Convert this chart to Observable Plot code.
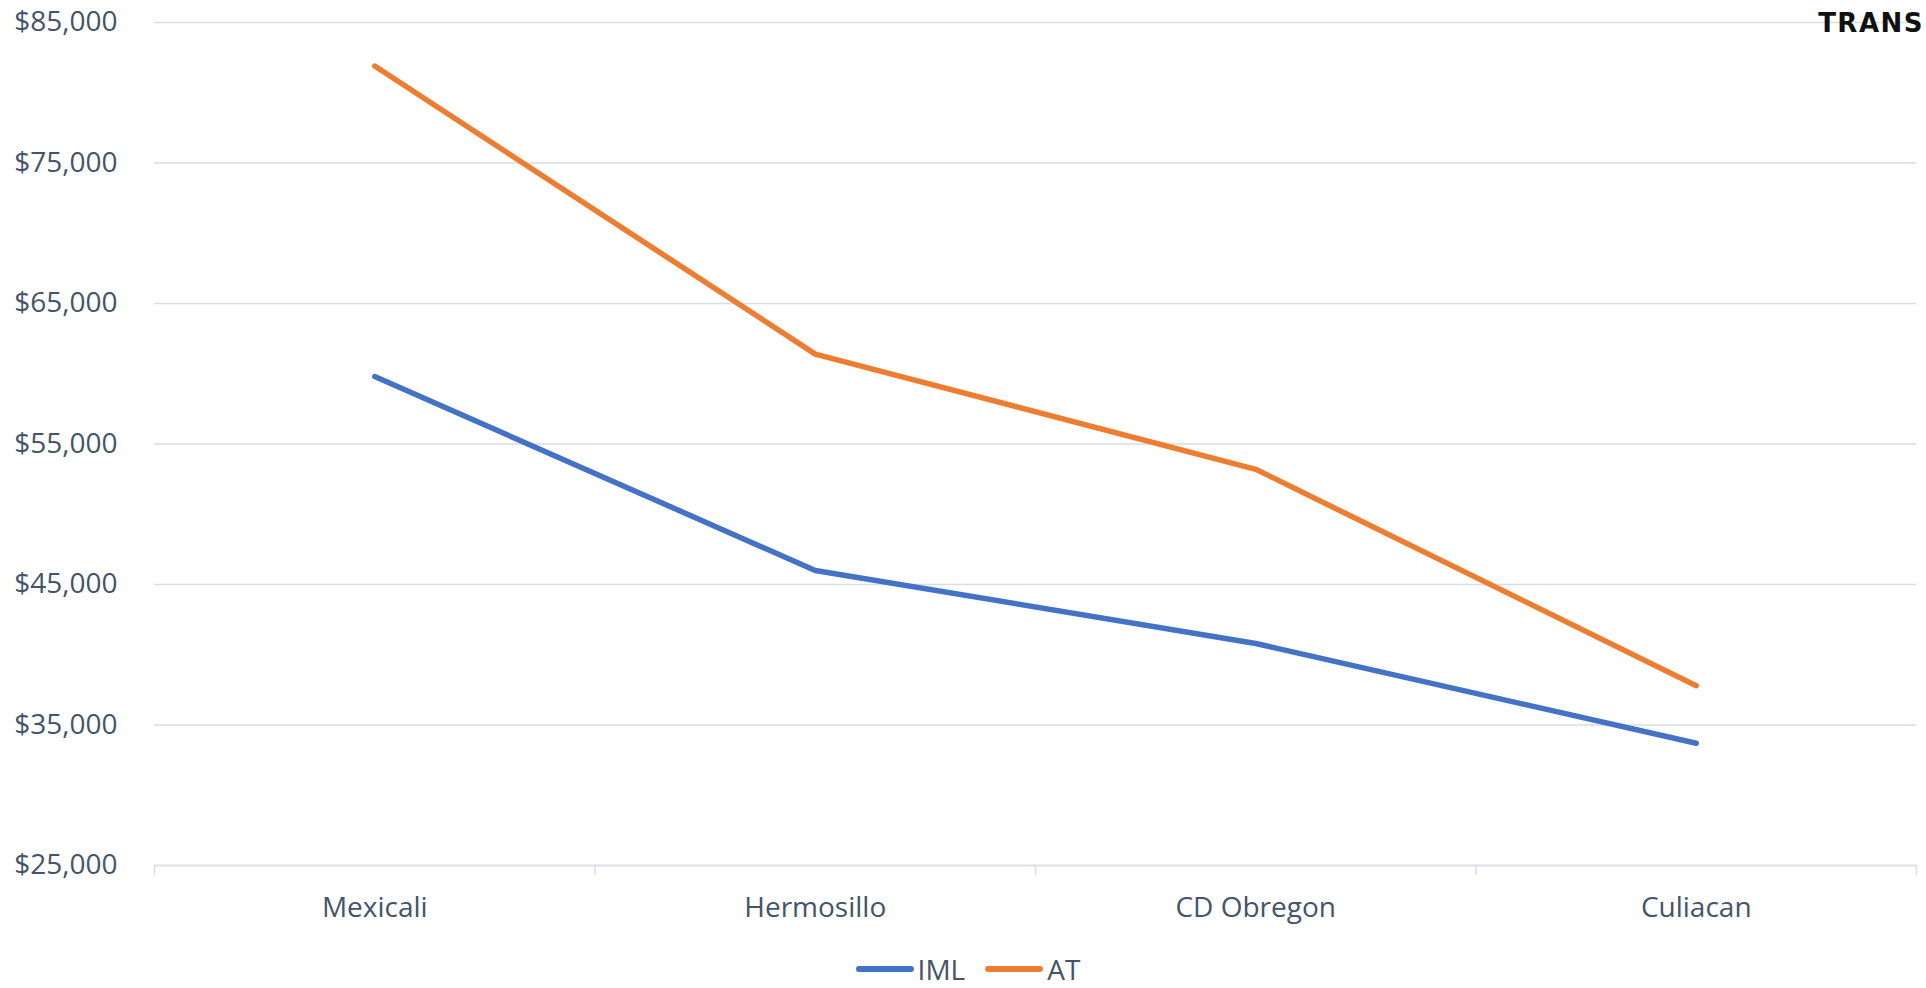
<!DOCTYPE html>
<html>
<head>
<meta charset="utf-8">
<script src="https://cdn.jsdelivr.net/npm/d3@7"></script>
<script src="https://cdn.jsdelivr.net/npm/@observablehq/plot@0.6"></script>
<style>
  html, body { margin: 0; padding: 0; background: #fff; overflow: hidden; }
  body { width: 1926px; height: 988px; position: relative; font-family: "Open Sans", sans-serif; }
  #logo { position: absolute; right: 2px; top: 8px; font-family: "DejaVu Sans", sans-serif; font-weight: bold; font-size: 26px; letter-spacing: 1.5px; color: #111; white-space: nowrap; }
  #legend { display: flex; justify-content: center; align-items: center; gap: 20px; height: 58px; margin-top: 10px; font-size: 28px; color: #44546A; padding-left: 10px; }
  .item { display: flex; align-items: center; gap: 4px; }
  .sw { width: 58px; height: 6px; border-radius: 3px; flex-shrink: 0; }
</style>
</head>
<body>
<div id="chart"></div>
<div id="legend"></div>
<div id="logo">TRANS</div>
<script>
const categories = ["Mexicali", "Hermosillo", "CD Obregon", "Culiacan"];
const seriesNames = ["IML", "AT"];
const imlValues = [59800, 46000, 40800, 33700];
const atValues = [81900, 61400, 53200, 37800];
const yTicks = [25000, 35000, 45000, 55000, 65000, 75000, 85000];
const colors = ["#4472C4", "#ED7D31"];

const data = [];
categories.forEach((c, i) => {
  data.push({series: "IML", i, value: imlValues[i]});
  data.push({series: "AT", i, value: atValues[i]});
});
const edges = d3.range(categories.length + 1).map(k => k - 0.5);
const fmt = v => "$" + d3.format(",")(v);

const chart = Plot.plot({
  width: 1926,
  height: 930,
  marginTop: 22,
  marginBottom: 65,
  marginLeft: 154,
  marginRight: 10,
  style: {fontFamily: "'Open Sans', sans-serif", fontSize: "28px", color: "#44546A", background: "#fff"},
  x: {type: "linear", domain: [-0.5, categories.length - 0.5]},
  y: {domain: [25000, 85000]},
  color: {domain: seriesNames, range: colors},
  marks: [
    Plot.gridY(yTicks, {stroke: "#D9DEE6", strokeOpacity: 1, strokeWidth: 1.5}),
    Plot.axisY(yTicks, {tickSize: 0, tickPadding: 37, tickFormat: fmt, label: null, fill: "#44546A"}),
    Plot.ruleY([25000], {stroke: "#D9DEE6", strokeWidth: 1.5}),
    Plot.axisX(edges, {tickSize: 10, tickFormat: () => "", stroke: "#D9DEE6", strokeWidth: 1.5, label: null}),
    Plot.axisX(d3.range(categories.length), {tickSize: 0, tickPadding: 32, tickFormat: i => categories[i], label: null, fill: "#44546A"}),
    Plot.line(data, {x: "i", y: "value", z: "series", stroke: "series", strokeWidth: 5.5, strokeLinecap: "round", strokeLinejoin: "round"})
  ]
});
document.getElementById("chart").appendChild(chart);

const legend = document.getElementById("legend");
seriesNames.forEach((s, k) => {
  const item = document.createElement("div");
  item.className = "item";
  const sw = document.createElement("div");
  sw.className = "sw";
  sw.style.background = colors[k];
  const t = document.createElement("span");
  t.textContent = s;
  item.appendChild(sw);
  item.appendChild(t);
  legend.appendChild(item);
});
</script>
</body>
</html>
